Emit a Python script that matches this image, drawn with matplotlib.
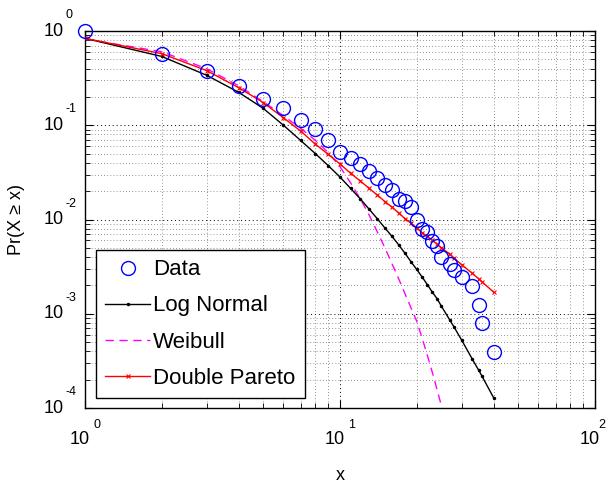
import matplotlib
matplotlib.use("Agg")
import matplotlib.pyplot as plt
from matplotlib.ticker import LogLocator, NullFormatter

plt.rcParams['font.family'] = ['Liberation Sans', 'DejaVu Sans']

# ---- data ----
x_data = [1, 2, 3, 4, 5, 6, 7, 8, 9, 10, 11, 12, 13, 14, 15, 16, 17, 18, 19, 20,
          21, 22, 23, 24, 25, 27, 28, 30, 33, 35, 36, 40]
y_data = [1.0, 0.569, 0.375, 0.260, 0.189, 0.151, 0.115, 0.0923, 0.0692, 0.0520,
          0.0445, 0.0385, 0.0327, 0.0278, 0.0230, 0.0204, 0.0166, 0.0159, 0.0135, 0.00993,
          0.00796, 0.00733, 0.00598, 0.00528, 0.00404, 0.00340, 0.00292, 0.00243, 0.00199,
          0.00123, 0.00079, 0.000397]

y_lognormal = [0.836, 0.537, 0.339, 0.224, 0.151, 0.100, 0.0692, 0.0501, 0.0372, 0.0282,
               0.0214, 0.0166, 0.0129, 0.0102, 0.00813, 0.00661, 0.00537, 0.00437, 0.00355, 0.00295,
               0.00245, 0.00204, 0.00170, 0.00145, 0.00120, 0.000851, 0.000724, 0.000525, 0.000331,
               0.000251, 0.000219, 0.000129]

y_pareto = [0.836, 0.575, 0.380, 0.251, 0.174, 0.120, 0.0871, 0.0631, 0.0490, 0.0389,
            0.0309, 0.0257, 0.0214, 0.0182, 0.0155, 0.0135, 0.0117, 0.0102, 0.00912, 0.00813,
            0.00724, 0.00661, 0.00603, 0.00550, 0.00501, 0.00427, 0.00389, 0.00331, 0.00269,
            0.00234, 0.00219, 0.00170]

x_weibull = [1, 2, 3, 4, 5, 6, 7, 8, 9, 10, 11, 12, 13, 14, 15, 16, 17, 18, 19, 20,
             21, 22, 23, 24, 25, 27]
y_weibull = [0.822, 0.603, 0.398, 0.263, 0.178, 0.126, 0.0933, 0.0692, 0.0513, 0.0363,
             0.0245, 0.0166, 0.0112, 0.00741, 0.00501, 0.00339, 0.00234, 0.00162, 0.00115, 0.000832,
             0.000550, 0.000363, 0.000240, 0.000158, 0.000105, 0.0000500]

labels = ["Data", "Log Normal", "Weibull", "Double Pareto"]
x_ticks = [1, 10, 100]
x_exps = ["0", "1", "2"]
y_ticks = [1, 0.1, 0.01, 0.001, 0.0001]
y_exps = ["0", "-1", "-2", "-3", "-4"]

# ---- figure ----
W, H = 606, 486
fig = plt.figure(figsize=(W / 100, H / 100), dpi=100)
ax = fig.add_axes([85 / W, 1 - 408 / H, 510 / W, 377 / H])
ax.set_xscale('log')
ax.set_yscale('log')
ax.set_xlim(1, 100)
ax.set_ylim(1e-4, 1)

ax.plot(x_data, y_data, linestyle='none', marker='o', markersize=10,
        markerfacecolor='none', markeredgecolor='#0000ff', markeredgewidth=1.0,
        label=labels[0], zorder=5, clip_on=False)
ax.plot(x_data, y_lognormal, color='black', linewidth=1.0, marker='.',
        markersize=3, label=labels[1], zorder=4)
ax.plot(x_weibull, y_weibull, color='#ff00ff', linewidth=1.0, linestyle=(0, (6, 4)),
        label=labels[2], zorder=3)
ax.plot(x_data, y_pareto, color='#ff0000', linewidth=1.0, marker='x',
        markersize=3, markeredgewidth=0.8, label=labels[3], zorder=4)

# grid (MATLAB style, dotted, major + minor)
ax.xaxis.set_major_locator(LogLocator(base=10, numticks=10))
ax.yaxis.set_major_locator(LogLocator(base=10, numticks=10))
ax.xaxis.set_minor_locator(LogLocator(base=10, subs=range(2, 10), numticks=20))
ax.yaxis.set_minor_locator(LogLocator(base=10, subs=range(2, 10), numticks=20))
ax.xaxis.set_major_formatter(NullFormatter())
ax.yaxis.set_major_formatter(NullFormatter())
ax.xaxis.set_minor_formatter(NullFormatter())
ax.yaxis.set_minor_formatter(NullFormatter())
ax.grid(True, which='major', linestyle=(0, (1, 3)), color='black', linewidth=0.7)
ax.grid(True, which='minor', linestyle=(0, (1, 3.5)), color='#333333', linewidth=0.5)
ax.tick_params(which='both', direction='in', top=True, right=True, colors='black')
ax.tick_params(which='major', length=6, width=0.8)
ax.tick_params(which='minor', length=3.5, width=0.6)
for s in ax.spines.values():
    s.set_linewidth(1.0)
    s.set_color('black')

# tick labels, MATLAB-like "10" with raised exponent
for xt, e in zip(x_ticks, x_exps):
    ax.annotate("10", xy=(xt, 0), xycoords=ax.get_xaxis_transform(),
                xytext=(-5, -31), textcoords='offset pixels',
                ha='center', va='center', fontsize=13, annotation_clip=False)
    dx = 12 if xt < 100 else 7
    ax.annotate(e, xy=(xt, 0), xycoords=ax.get_xaxis_transform(),
                xytext=(dx, -17), textcoords='offset pixels',
                ha='center', va='center', fontsize=9, annotation_clip=False)
for yt, e in zip(y_ticks, y_exps):
    ax.annotate("10", xy=(0, yt), xycoords=ax.get_yaxis_transform(),
                xytext=(-21, 0), textcoords='offset pixels',
                ha='right', va='center', fontsize=13, annotation_clip=False)
    ax.annotate(e, xy=(0, yt), xycoords=ax.get_yaxis_transform(),
                xytext=(-20, 16), textcoords='offset pixels',
                ha='left', va='center', fontsize=9, annotation_clip=False)

ax.set_xlabel("x", fontsize=13)
ax.xaxis.set_label_coords(0.5, -0.157)
ax.set_ylabel("Pr(X \u2265 x)", fontsize=13)
ax.yaxis.set_label_coords(-0.118, 0.5)

leg = ax.legend(loc='lower left', bbox_to_anchor=(11 / 510, 10 / 377),
                fontsize=16, frameon=True, fancybox=False, edgecolor='black',
                framealpha=1, borderpad=0.42, labelspacing=0.68,
                handlelength=2.0, handletextpad=0.15, borderaxespad=0)
leg.get_frame().set_linewidth(1.0)

fig.savefig("out.png", dpi=100)
